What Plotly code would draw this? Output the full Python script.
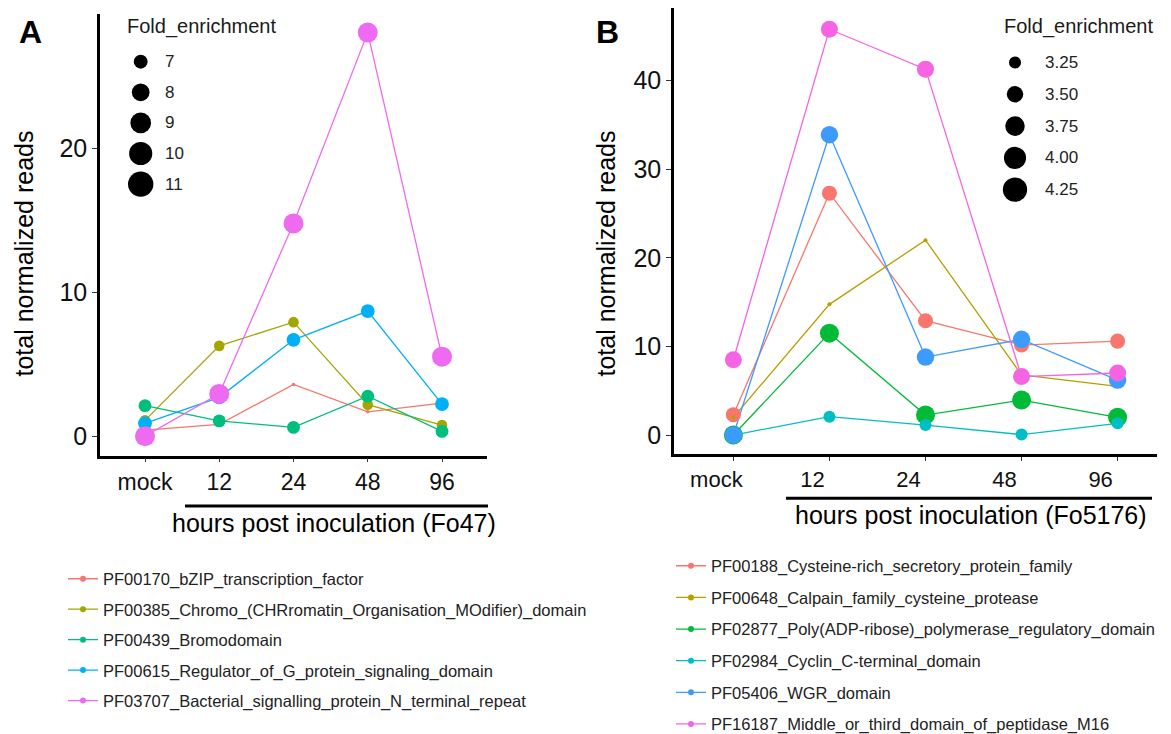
import numpy as np
import plotly.graph_objects as go

W, H = 1171, 734
FONT = "Liberation Sans, Arial, sans-serif"

# ---------------- data ----------------
hours = ["mock", "12", "24", "48", "96"]

# Panel A (Fo47)
a_names = [
    "PF00170_bZIP_transcription_factor",
    "PF00385_Chromo_(CHRromatin_Organisation_MOdifier)_domain",
    "PF00439_Bromodomain",
    "PF00615_Regulator_of_G_protein_signaling_domain",
    "PF03707_Bacterial_signalling_protein_N_terminal_repeat",
]
a_pf00170 = [0.42, 0.82, 3.6, 1.69, 2.3]
a_pf00385 = [1.1, 6.28, 7.93, 2.19, 0.77]
a_pf00439 = [2.12, 1.06, 0.61, 2.78, 0.33]
a_pf00615 = [0.89, 2.7, 6.7, 8.7, 2.23]
a_pf03707 = [0.0, 2.94, 14.8, 28.07, 5.53]
a_fold = [6.0, 7.0, 7.7, 8.1, 11.3]
a_size_breaks = [7, 8, 9, 10, 11]
a_colors = ["#F8766D", "#A3A500", "#00BF7D", "#00B0F6", "#EE6AF0"]

# Panel B (Fo5176)
b_names = [
    "PF00188_Cysteine-rich_secretory_protein_family",
    "PF00648_Calpain_family_cysteine_protease",
    "PF02877_Poly(ADP-ribose)_polymerase_regulatory_domain",
    "PF02984_Cyclin_C-terminal_domain",
    "PF05406_WGR_domain",
    "PF16187_Middle_or_third_domain_of_peptidase_M16",
]
b_pf00188 = [2.3, 27.3, 12.9, 10.16, 10.6]
b_pf00648 = [2.0, 14.75, 22.0, 6.8, 5.5]
b_pf02877 = [0.0, 11.5, 2.26, 3.95, 2.0]
b_pf02984 = [0.0, 2.07, 1.13, 0.05, 1.32]
b_pf05406 = [0.0, 33.9, 8.8, 10.8, 6.2]
b_pf16187 = [8.5, 45.8, 41.3, 6.6, 7.0]
b_fold = [3.75, 3.1, 4.3, 3.44, 4.07, 4.0]
b_size_breaks = [3.25, 3.50, 3.75, 4.00, 4.25]
b_colors = ["#F8766D", "#B79F00", "#00BA38", "#00BFC4", "#3D9BFF", "#F564E3"]

a_series = [a_pf00170, a_pf00385, a_pf00439, a_pf00615, a_pf03707]
b_series = [b_pf00188, b_pf00648, b_pf02877, b_pf02984, b_pf05406, b_pf16187]


# ---------------- helpers ----------------
def px(x):
    return x / W


def py(y):
    return 1 - y / H


def size_scale(values, dmin, dmax):
    lo, hi = min(values), max(values)

    def f(v):
        t = min(max((v - lo) / (hi - lo), 0), 1)
        return dmin + (dmax - dmin) * np.sqrt(t)

    return f


LEGEND_FACTOR = 1.3
a_size = size_scale(a_fold, 3.5, 20)
b_size = size_scale(b_fold, 4, 19)

fig = go.Figure()


def add_panel(series, names, colors, folds, sizefn, xa, ya, legend):
    # lines first (ggplot geom_line), then points on top
    for vals, c in zip(series, colors):
        fig.add_trace(go.Scatter(x=hours, y=vals, mode="lines",
                                 line=dict(color=c, width=1.3),
                                 xaxis=xa, yaxis=ya, showlegend=False,
                                 hoverinfo="skip"))
    for vals, c, fe, n in zip(series, colors, folds, names):
        fig.add_trace(go.Scatter(x=hours, y=vals, mode="markers",
                                 marker=dict(color=c, size=float(sizefn(fe)), line=dict(width=0)),
                                 xaxis=xa, yaxis=ya, showlegend=False, name=n))
    for c, n in zip(colors, names):
        fig.add_trace(go.Scatter(x=[None], y=[None], mode="lines+markers",
                                 line=dict(color=c, width=1.3),
                                 marker=dict(color=c, size=6),
                                 name=n, legend=legend, legendgroup=n,
                                 xaxis=xa, yaxis=ya, showlegend=True))


add_panel(a_series, a_names, a_colors, a_fold, a_size, "x", "y", "legend")
add_panel(b_series, b_names, b_colors, b_fold, b_size, "x2", "y2", "legend2")

axis_common = dict(showline=True, linecolor="black", linewidth=2.5, ticks="outside",
                   tickcolor="#333333", tickwidth=1, showgrid=False, zeroline=False,
                   fixedrange=True)

fig.update_layout(
    width=W, height=H, autosize=False,
    margin=dict(l=0, r=0, t=0, b=0, autoexpand=False),
    paper_bgcolor="white", plot_bgcolor="white",
    font=dict(family=FONT, color="#1a1a1a"),
    xaxis=dict(domain=[px(100), px(487)], anchor="y", type="category",
               range=[-0.606, 4.606], ticklen=4,
               tickfont=dict(size=23, color="#111111"), **axis_common),
    yaxis=dict(domain=[py(455.7), py(13.5)], anchor="x", range=[-1.36, 29.4],
               tickvals=[0, 10, 20], ticklen=5,
               tickfont=dict(size=25, color="#111111"), **axis_common),
    xaxis2=dict(domain=[px(674), px(1157)], anchor="y2", type="category",
                range=[-0.618, 4.41], ticklen=4, ticklabelshift=-17,
                tickfont=dict(size=22, color="#111111"), **axis_common),
    yaxis2=dict(domain=[py(454), py(8)], anchor="x2", range=[-2.14, 48.2],
                tickvals=[0, 10, 20, 30, 40], ticklen=5,
                tickfont=dict(size=25, color="#111111"), **axis_common),
    legend=dict(x=px(63), y=py(561.5), xanchor="left", yanchor="top",
                font=dict(size=16.5, color="#222222", family=FONT),
                bgcolor="rgba(0,0,0,0)", tracegroupgap=6.0, itemclick=False),
    legend2=dict(x=px(671), y=py(548.5), xanchor="left", yanchor="top",
                 font=dict(size=16.5, color="#222222", family=FONT),
                 bgcolor="rgba(0,0,0,0)", tracegroupgap=7.2, itemclick=False),
)

annotations = []
shapes = []

# panel letters
annotations.append(dict(text="<b>A</b>", x=px(30), y=py(32), xref="paper", yref="paper",
                        xanchor="center", yanchor="middle",
                        showarrow=False, font=dict(size=32, color="black", family=FONT)))
annotations.append(dict(text="<b>B</b>", x=px(607), y=py(32), xref="paper", yref="paper",
                        xanchor="center", yanchor="middle",
                        showarrow=False, font=dict(size=32, color="black", family=FONT)))

# y-axis titles
for xc in (24, 606):
    annotations.append(dict(text="total normalized reads", x=px(xc), y=py(253.5),
                            xref="paper", yref="paper", textangle=-90, showarrow=False,
                            xanchor="center", yanchor="middle",
                            font=dict(size=25, color="black", family=FONT)))

# x-axis titles with bar above
annotations.append(dict(text="hours post inoculation (Fo47)", x=px(170), y=py(523),
                        xref="paper", yref="paper", xanchor="left", yanchor="middle",
                        showarrow=False, font=dict(size=25, color="black", family=FONT)))
annotations.append(dict(text="hours post inoculation (Fo5176)", x=px(793), y=py(515),
                        xref="paper", yref="paper", xanchor="left", yanchor="middle",
                        showarrow=False, font=dict(size=25, color="black", family=FONT)))
shapes.append(dict(type="line", xref="paper", yref="paper", x0=px(185), x1=px(488),
                   y0=py(506), y1=py(506), line=dict(color="black", width=3)))
shapes.append(dict(type="line", xref="paper", yref="paper", x0=px(786), x1=px(1152),
                   y0=py(498.3), y1=py(498.3), line=dict(color="black", width=3)))


# size legends (Fold_enrichment)
def size_legend(title_x, title_y, dot_x, label_x, row0, dy, breaks, sizefn, fmt):
    annotations.append(dict(text="Fold_enrichment", x=px(title_x), y=py(title_y),
                            xref="paper", yref="paper", xanchor="left", yanchor="middle",
                            showarrow=False, font=dict(size=20, color="#1a1a1a", family=FONT)))
    for i, b in enumerate(breaks):
        yy = row0 + dy * i
        d = float(sizefn(b)) * LEGEND_FACTOR
        shapes.append(dict(type="circle", xref="paper", yref="paper",
                           xsizemode="pixel", ysizemode="pixel",
                           xanchor=px(dot_x), yanchor=py(yy),
                           x0=-d / 2, x1=d / 2, y0=-d / 2, y1=d / 2,
                           fillcolor="black", line=dict(width=0)))
        annotations.append(dict(text=fmt(b), x=px(label_x), y=py(yy), xref="paper", yref="paper",
                                xanchor="left", yanchor="middle", showarrow=False,
                                font=dict(size=17, color="#222222", family=FONT)))


size_legend(125, 26.7, 140.7, 163, 61.7, 30.6, a_size_breaks, a_size, lambda v: f"{v:d}")
size_legend(1002, 26.7, 1015, 1043, 62.5, 31.8, b_size_breaks, b_size, lambda v: f"{v:.2f}")

fig.update_layout(annotations=annotations, shapes=shapes)

fig.write_html("out.html", config={"displayModeBar": False},
               post_script="document.body.style.margin='0';document.body.style.overflow='hidden';")
